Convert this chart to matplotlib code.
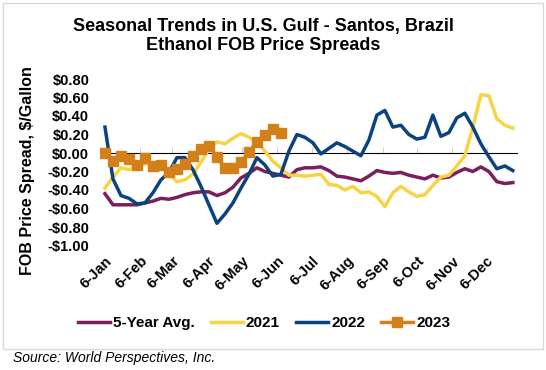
import matplotlib
matplotlib.use('Agg')
import matplotlib.pyplot as plt
from matplotlib.patches import Rectangle
import pandas as pd

plt.rcParams['font.family'] = ['Liberation Sans', 'DejaVu Sans']

# weekly observations, first one on 6-Jan
weeks = pd.date_range('2023-01-06', periods=52, freq='7D')

avg5 = [-0.44, -0.56, -0.56, -0.56, -0.56, -0.54, -0.52, -0.49, -0.50, -0.48,
        -0.45, -0.43, -0.42, -0.42, -0.46, -0.43, -0.37, -0.27, -0.22, -0.16,
        -0.20, -0.22, -0.24, -0.26, -0.18, -0.16, -0.16, -0.15, -0.19, -0.25,
        -0.26, -0.28, -0.30, -0.25, -0.19, -0.21, -0.22, -0.21, -0.24, -0.26,
        -0.28, -0.24, -0.27, -0.26, -0.21, -0.17, -0.20, -0.15, -0.20, -0.31,
        -0.33, -0.32]
y2021 = [-0.38, -0.26, -0.16, -0.18, -0.15, -0.12, -0.11, -0.15, -0.22, -0.31,
         -0.29, -0.23, -0.10, 0.04, 0.12, 0.10, 0.16, 0.21, 0.17, 0.12,
         0.02, -0.09, -0.16, -0.24, -0.24, -0.25, -0.24, -0.23, -0.34, -0.35,
         -0.40, -0.36, -0.43, -0.42, -0.47, -0.58, -0.43, -0.36, -0.42, -0.47,
         -0.45, -0.35, -0.26, -0.24, -0.14, -0.03, 0.28, 0.63, 0.62, 0.37,
         0.30, 0.27]
y2022 = [0.28, -0.28, -0.46, -0.49, -0.55, -0.54, -0.43, -0.29, -0.21, -0.05,
         -0.05, -0.18, -0.36, -0.56, -0.76, -0.66, -0.54, -0.38, -0.23, -0.05,
         -0.13, -0.25, -0.23, 0.02, 0.20, 0.17, 0.11, -0.01, 0.05, 0.11,
         0.07, 0.02, -0.03, 0.14, 0.41, 0.46, 0.28, 0.30, 0.20, 0.15,
         0.17, 0.41, 0.18, 0.22, 0.38, 0.43, 0.28, 0.10, -0.04, -0.17,
         -0.14, -0.19]
y2023 = [0.00, -0.09, -0.03, -0.06, -0.13, -0.05, -0.14, -0.13, -0.21, -0.17,
         -0.12, -0.03, 0.04, 0.08, -0.04, -0.16, -0.16, -0.10, 0.01, 0.12,
         0.20, 0.26, 0.22]

months = ['Jan', 'Feb', 'Mar', 'Apr', 'May', 'Jun',
          'Jul', 'Aug', 'Sep', 'Oct', 'Nov', 'Dec']
month_ticks = pd.date_range('2023-01-01', periods=12, freq='MS') + pd.Timedelta(days=5)
yticks = [0.8, 0.6, 0.4, 0.2, 0.0, -0.2, -0.4, -0.6, -0.8, -1.0]

c_avg = '#7A1F5C'
c_21 = '#F7D443'
c_22 = '#0C437E'
c_23 = '#D4801A'

fig = plt.figure(figsize=(5.46, 3.70), dpi=100)
ax = fig.add_axes([100.4 / 546, 1 - 245.5 / 370, 417 / 546, 166.5 / 370])

ax.plot(weeks, avg5, color=c_avg, lw=2.5, label='5-Year Avg.')
ax.plot(weeks, y2021, color=c_21, lw=2.5, label='2021')
ax.plot(weeks, y2022, color=c_22, lw=2.5, label='2022')
ax.plot(weeks[:len(y2023)], y2023, color=c_23, lw=2.5, marker='s', ms=6.5,
        label='2023')

ax.set_xlim(pd.Timestamp('2023-01-02'), pd.Timestamp('2024-01-02'))
ax.set_ylim(-1.0, 0.8)

for s in ax.spines.values():
    s.set_visible(False)

ax.set_yticks(yticks)
ax.set_yticklabels([('-$%.2f' % -v) if v < 0 else ('$%.2f' % v) for v in yticks],
                   fontsize=10.5, fontweight='bold')
ax.tick_params(axis='y', length=0, pad=8)

ax.set_xticks(month_ticks)
ax.set_xticklabels(['6-' + m for m in months], rotation=45, ha='right',
                   rotation_mode='anchor', fontsize=10.5, fontweight='bold')
ax.tick_params(axis='x', length=0, pad=6)

# zero line carrying the category ticks
zero = ax.secondary_xaxis(1.0 / 1.8)
zero.set_xticks(month_ticks)
zero.set_xticklabels([])
zero.spines['bottom'].set_color('#D0D0D0')
zero.tick_params(axis='x', direction='out', length=4, color='#D0D0D0')
ax.set_zorder(1)

fig.text(263 / 546, 1 - 36 / 370, 'Seasonal Trends in U.S. Gulf - Santos, Brazil\nEthanol FOB Price Spreads',
         ha='center', va='center', fontsize=13, fontweight='bold', linespacing=1.15)
fig.text(28 / 546, 1 - 171 / 370, 'FOB Price Spread, $/Gallon', rotation=90,
         ha='center', va='center', fontsize=11.5, fontweight='bold')

fig.legend(loc='center', bbox_to_anchor=(264 / 546, 1 - 323 / 370), ncol=4,
           frameon=False, prop={'weight': 'bold', 'size': 11},
           handlelength=2.1, handletextpad=0.2, columnspacing=1.05)

fig.patches.append(Rectangle((3 / 546, 1 - 349 / 370), 540 / 546, 346 / 370,
                             transform=fig.transFigure, fill=False,
                             edgecolor='#D9D9D9', lw=1))
fig.text(13 / 546, 1 - 358 / 370, 'Source: World Perspectives, Inc.',
         ha='left', va='center', fontsize=10, style='italic')

fig.savefig('out.png', dpi=100)
